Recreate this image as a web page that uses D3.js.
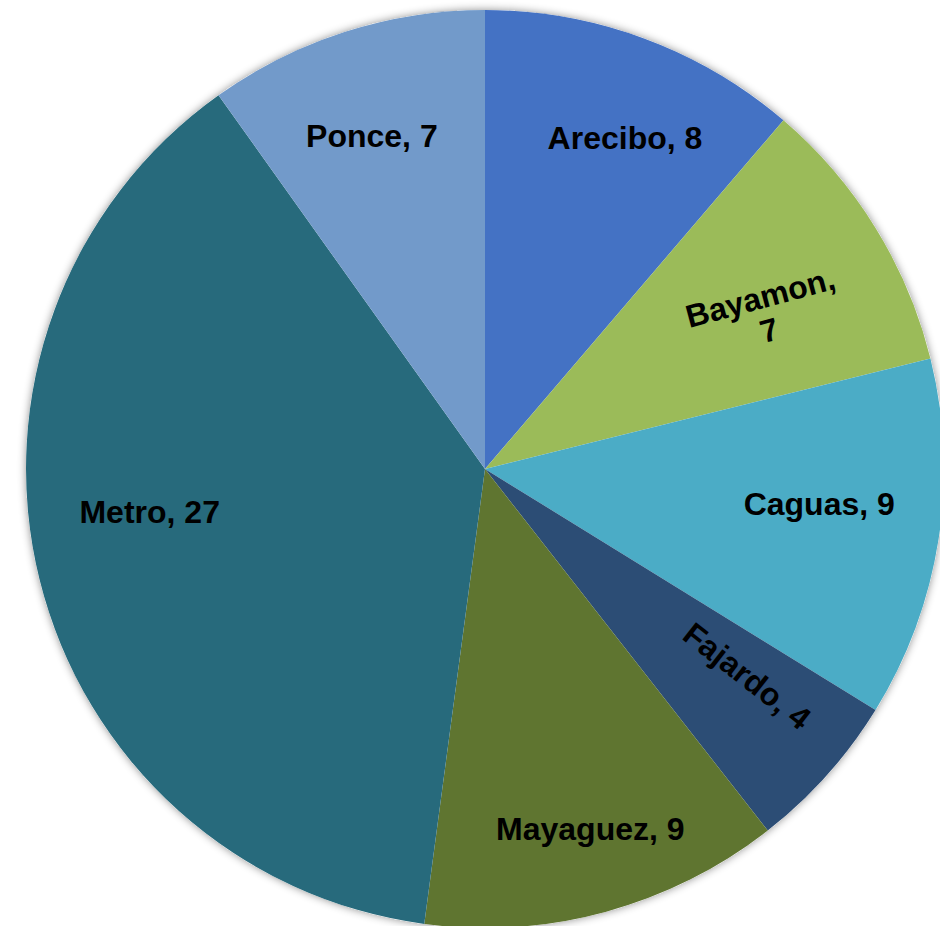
<!DOCTYPE html>
<html>
<head>
<meta charset="utf-8">
<script src="https://cdn.jsdelivr.net/npm/d3@7/dist/d3.min.js"></script>
<style>
  html, body { margin: 0; padding: 0; background: #ffffff; }
  svg { display: block; }
</style>
</head>
<body>
<svg id="chart" width="940" height="926"></svg>
<script>
// ---- data ----
const categories = ["Arecibo", "Bayamon", "Caguas", "Fajardo", "Mayaguez", "Metro", "Ponce"];
const values = [8, 7, 9, 4, 9, 27, 7];
const colors = ["#4472C4", "#9BBB59", "#4BACC6", "#2C4D75", "#5F7530", "#276A7C", "#729ACA"];

// ---- label layout (radius in px, angle tweak in degrees, rotation, lines) ----
const labelRadius = [360, 320, 336, 334, 375, 338, 352];
const labelAngleShift = [2.6, 2.6, -3.0, -3.6, -1.1, 6.7, -1.0];
const labelRotate = [0, -15, 0, 38, 0, 0, 0];
const labelWrap = [false, true, false, false, false, false, false];

const width = 940, height = 926;
const cx = 485, cy = 469, R = 459;

const svg = d3.select("#chart");
const defs = svg.append("defs");
const f = defs.append("filter").attr("id", "shadow")
  .attr("x", "-10%").attr("y", "-10%").attr("width", "120%").attr("height", "120%");
f.append("feDropShadow").attr("dx", 0).attr("dy", 0).attr("stdDeviation", 4)
  .attr("flood-color", "#000").attr("flood-opacity", 0.45);

const g = svg.append("g").attr("transform", `translate(${cx},${cy})`);

const data = categories.map((c, i) => ({ name: c, value: values[i], i }));
const pie = d3.pie().value(d => d.value).sort(null);
const arcs = pie(data);
const arc = d3.arc().innerRadius(0).outerRadius(R);

// shadow disc under the pie
g.append("circle").attr("r", R).attr("fill", "#ffffff").attr("filter", "url(#shadow)");

g.selectAll("path.slice").data(arcs).join("path")
  .attr("class", "slice")
  .attr("d", arc)
  .attr("fill", d => colors[d.data.i]);

const labels = g.selectAll("g.lbl").data(arcs).join("g")
  .attr("class", "lbl")
  .attr("transform", d => {
    const i = d.data.i;
    const a = (d.startAngle + d.endAngle) / 2 + labelAngleShift[i] * Math.PI / 180;
    const r = labelRadius[i];
    const x = r * Math.sin(a), y = -r * Math.cos(a);
    return `translate(${x},${y}) rotate(${labelRotate[i]})`;
  });

labels.each(function(d) {
  const i = d.data.i;
  const t = d3.select(this).append("text")
    .attr("text-anchor", "middle")
    .attr("font-family", "'Liberation Sans', Arial, sans-serif")
    .attr("font-weight", "bold")
    .attr("font-size", 32)
    .attr("fill", "#000");
  if (labelWrap[i]) {
    t.append("tspan").attr("x", 0).attr("y", -17).attr("dy", "0.36em").text(d.data.name + ",");
    t.append("tspan").attr("x", 0).attr("y", 17).attr("dy", "0.36em").text(d.data.value);
  } else {
    t.attr("dy", "0.36em").text(`${d.data.name}, ${d.data.value}`);
  }
});
</script>
</body>
</html>
